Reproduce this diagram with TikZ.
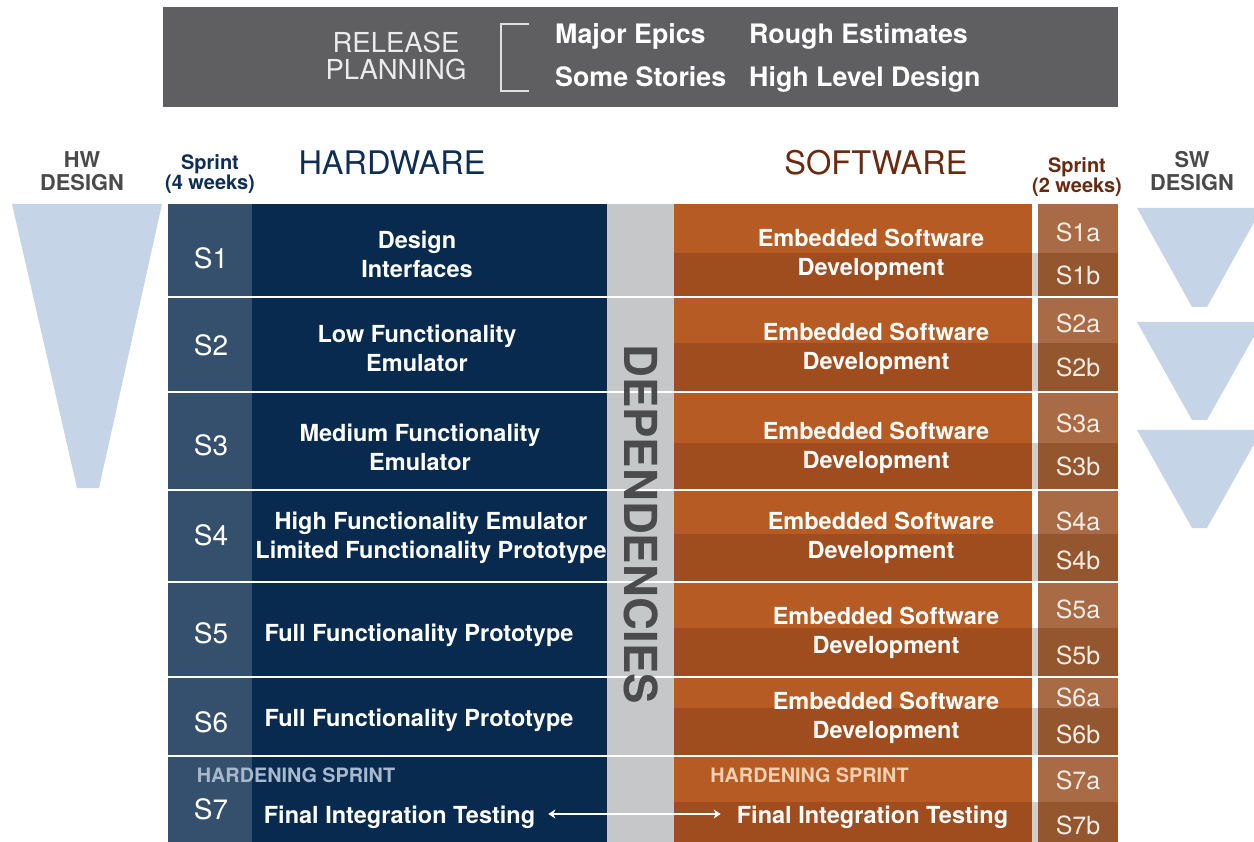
\documentclass[tikz,border=0pt]{standalone}
\usepackage{fontspec}
\setmainfont{TeX Gyre Heros}
\usetikzlibrary{arrows.meta}
\definecolor{bannerc}{HTML}{5F5F61}
\definecolor{navy}{HTML}{082A4E}
\definecolor{hwsprint}{HTML}{34506D}
\definecolor{depgray}{HTML}{C6C7C9}
\definecolor{orangeA}{HTML}{B55B23}
\definecolor{orangeB}{HTML}{9F4C1E}
\definecolor{swspA}{HTML}{A86B45}
\definecolor{swspB}{HTML}{94562F}
\definecolor{gapc}{HTML}{D6CCC6}
\definecolor{tric}{HTML}{C5D5E7}
\definecolor{hwhead}{HTML}{0F2E55}
\definecolor{swhead}{HTML}{6B2A10}
\definecolor{deptext}{HTML}{4B4B4D}
\definecolor{desgray}{HTML}{4A4A4A}
\definecolor{hardhw}{HTML}{A9B9CD}
\definecolor{hardsw}{HTML}{F3CFB0}
\definecolor{swlabc}{HTML}{F7EBE3}
\newcommand\myfs[2]{\fontsize{#1}{#2}\selectfont}
\begin{document}
\begin{tikzpicture}[x=1pt,y=-1pt,
  bodytxt/.style={text=white,align=center,inner sep=0pt,font={\myfs{23.5}{29}\bfseries}},
  hwlab/.style={text=white,inner sep=0pt,font={\myfs{28}{30}}},
  swlab/.style={text=swlabc,inner sep=0pt,font={\myfs{25}{27}}},
  bannertxt/.style={text=white,inner sep=0pt,anchor=base west,font={\myfs{26.8}{30}\bfseries}},
  smallhead/.style={align=center,inner sep=0pt,font={\myfs{20}{19.5}\bfseries}},
  deshead/.style={align=center,inner sep=0pt,text=desgray,font={\myfs{21.8}{23}\bfseries}},
  bighead/.style={inner sep=0pt,font={\myfs{32.5}{34}}},
  hardtxt/.style={inner sep=0pt,font={\myfs{19.8}{22}\bfseries}},
  tri/.style={fill=tric}
]
\clip (0,0) rectangle (1254,842);
\fill[white] (0,0) rectangle (1254,842);

% banner
\fill[bannerc] (163,7) rectangle (1118,107);
\node[text=white!92!black,align=center,inner sep=0pt,font={\myfs{27.5}{27}}] (rp) at (396,56) {RELEASE\\PLANNING};
\draw[white!88!black,line width=1.5pt] (529,24) -- (501,24) -- (501,91) -- (529,91);
\node[bannertxt] (me) at (555,44) {Major Epics};
\node[bannertxt] (re) at (749,44) {Rough Estimates};
\node[bannertxt] (ss) at (555,87) {Some Stories};
\node[bannertxt] (hl) at (749,87) {High Level Design};

% headers
\node[deshead] (hwd) at (82,171) {HW\\DESIGN};
\node[smallhead,text=hwhead] (sp4) at (210,174) {Sprint\\(4 weeks)};
\node[bighead,text=hwhead] (hwh) at (392,163) {HARDWARE};
\node[bighead,text=swhead] (swh) at (876,163) {SOFTWARE};
\node[smallhead,text=swhead] (sp2) at (1077,177) {Sprint\\(2 weeks)};
\node[deshead] (swd) at (1192,171) {SW\\DESIGN};

% design funnels
\fill[tri] (12,204) -- (162,204) -- (99,488) -- (77,488) -- cycle;
\fill[tri] (1137,208) -- (1262,208) -- (1207,307) -- (1192,307) -- cycle;
\fill[tri] (1137,322) -- (1262,322) -- (1207,420) -- (1192,420) -- cycle;
\fill[tri] (1137,430) -- (1262,430) -- (1207,528) -- (1192,528) -- cycle;

% table rows
\foreach \t/\b/\s in {204/296/253, 298/391/343, 393/489/443, 491/581/534, 583/676/628, 678/755/708, 757/842/802}{
  \fill[hwsprint] (168,\t) rectangle (252,\b);
  \fill[navy] (252,\t) rectangle (607,\b);
  \fill[depgray] (607,\t) rectangle (674,\b);
  \fill[orangeA] (674,\t) rectangle (1032,\s);
  \fill[orangeB] (674,\s) rectangle (1032,\b);
  \fill[gapc] (1032,\s) rectangle (1038,\b);
  \fill[swspA] (1038,\t) rectangle (1118,\s);
  \fill[swspB] (1038,\s) rectangle (1118,\b);
}

% dependencies
\node[rotate=-90,text=deptext,inner sep=0pt,font={\myfs{45.5}{46}\bfseries}] (dep) at (641,524) {DEPENDENCIES};

% HW sprint labels
\node[hwlab] (s1) at (211,258) {S1};
\node[hwlab] (s2) at (211,345) {S2};
\node[hwlab] (s3) at (211,445) {S3};
\node[hwlab] (s4) at (211,535) {S4};
\node[hwlab] (s5) at (211,633) {S5};
\node[hwlab] (s6) at (211,722) {S6};
\node[hwlab] (s7) at (211,809) {S7};

% HW texts
\node[bodytxt] (hw1) at (417,254) {Design\\Interfaces};
\node[bodytxt] (hw2) at (417,348) {Low Functionality\\Emulator};
\node[bodytxt] (hw3) at (420,447) {Medium Functionality\\Emulator};
\node[bodytxt] (hw4) at (431,538) {High Functionality Emulator\\Limited Functionality Prototype};
\node[bodytxt] (hw5) at (419,635) {Full Functionality Prototype};
\node[bodytxt] (hw6) at (419,720) {Full Functionality Prototype};
\node[hardtxt,text=hardhw] (hhw) at (296,775) {HARDENING SPRINT};
\node[bodytxt] (hw7) at (399.5,817) {Final Integration Testing};

% SW texts
\node[bodytxt] (sw1) at (871,255) {Embedded Software\\Development};
\node[bodytxt] (sw2) at (876,349) {Embedded Software\\Development};
\node[bodytxt] (sw3) at (876,448) {Embedded Software\\Development};
\node[bodytxt] (sw4) at (881,538) {Embedded Software\\Development};
\node[bodytxt] (sw5) at (886,633) {Embedded Software\\Development};
\node[bodytxt] (sw6) at (886,718) {Embedded Software\\Development};
\node[hardtxt,text=hardsw] (hsw) at (809.5,775) {HARDENING SPRINT};
\node[bodytxt] (sw7) at (872.5,817) {Final Integration Testing};

% SW sprint labels
\node[swlab] (s1a) at (1078,232) {S1a};
\node[swlab] (s1b) at (1078,275) {S1b};
\node[swlab] (s2a) at (1078,323) {S2a};
\node[swlab] (s2b) at (1078,367) {S2b};
\node[swlab] (s3a) at (1078,423) {S3a};
\node[swlab] (s3b) at (1078,466) {S3b};
\node[swlab] (s4a) at (1078,521) {S4a};
\node[swlab] (s4b) at (1078,560) {S4b};
\node[swlab] (s5a) at (1078,609) {S5a};
\node[swlab] (s5b) at (1078,655) {S5b};
\node[swlab] (s6a) at (1078,697) {S6a};
\node[swlab] (s6b) at (1078,734) {S6b};
\node[swlab] (s7a) at (1078,780) {S7a};
\node[swlab] (s7b) at (1078,825) {S7b};

% integration arrow
\draw[white,line width=1.6pt,{Stealth[length=7pt,width=9pt,inset=2pt]}-{Stealth[length=7pt,width=9pt,inset=2pt]}]
  ([xshift=13pt,yshift=3pt]hw7.east) -- ([xshift=-16pt,yshift=3pt]sw7.west);
\end{tikzpicture}
\end{document}
